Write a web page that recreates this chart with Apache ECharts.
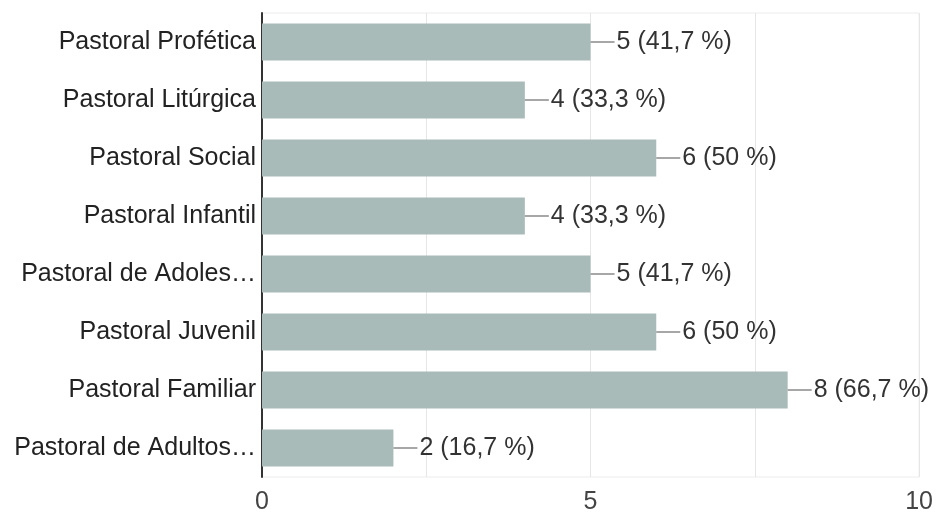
<!DOCTYPE html>
<html>
<head>
<meta charset="utf-8">
<script src="https://cdn.jsdelivr.net/npm/echarts@6/dist/echarts.min.js"></script>
<style>
  html, body { margin: 0; padding: 0; background: #fff; }
  #chart { width: 936px; height: 515px; }
</style>
</head>
<body>
<div id="chart"></div>
<script>
// Pastoral ministries and how many respondents chose each one
const categories = [
  'Pastoral Profética',
  'Pastoral Litúrgica',
  'Pastoral Social',
  'Pastoral Infantil',
  'Pastoral de Adoles…',
  'Pastoral Juvenil',
  'Pastoral Familiar',
  'Pastoral de Adultos…'
];
const counts = [5, 4, 6, 4, 5, 6, 8, 2];
const percents = ['41,7', '33,3', '50', '33,3', '41,7', '50', '66,7', '16,7'];
const axisTicks = [0, 5, 10];

const FONT = 'Liberation Sans, Arial, sans-serif';

const chart = echarts.init(document.getElementById('chart'), null, { renderer: 'canvas' });
chart.setOption({
  animation: false,
  grid: {
    left: 262, right: 16, top: 13, bottom: 38,
    show: true, borderColor: '#ececec', borderWidth: 1
  },
  xAxis: {
    type: 'value',
    min: 0,
    max: 10,
    interval: 2.5,
    axisLine: { show: false },
    axisTick: { show: false },
    splitLine: { lineStyle: { color: '#e6e6e6', width: 1 } },
    axisLabel: {
      fontFamily: FONT,
      fontSize: 25,
      color: '#444',
      margin: 13,
      formatter: v => axisTicks.indexOf(v) >= 0 ? String(v) : ''
    }
  },
  yAxis: {
    type: 'category',
    data: categories,
    inverse: true,
    axisLine: { show: true, lineStyle: { color: '#333', width: 2 } },
    axisTick: { show: false },
    axisLabel: {
      fontFamily: FONT,
      fontSize: 25,
      color: '#222',
      margin: 6
    }
  },
  series: [{
    type: 'bar',
    data: counts,
    barCategoryGap: '36%',
    itemStyle: { color: '#a9bbb8' },
    label: {
      show: true,
      position: 'right',
      distance: 0,
      formatter: p => '{l|}{t|' + counts[p.dataIndex] + ' (' + percents[p.dataIndex] + ' %)}',
      rich: {
        l: { width: 24, height: 1.5, backgroundColor: '#8a8a8a' },
        t: { fontFamily: FONT, fontSize: 25, color: '#333', padding: [0, 0, 0, 2] }
      }
    }
  }]
});
</script>
</body>
</html>
